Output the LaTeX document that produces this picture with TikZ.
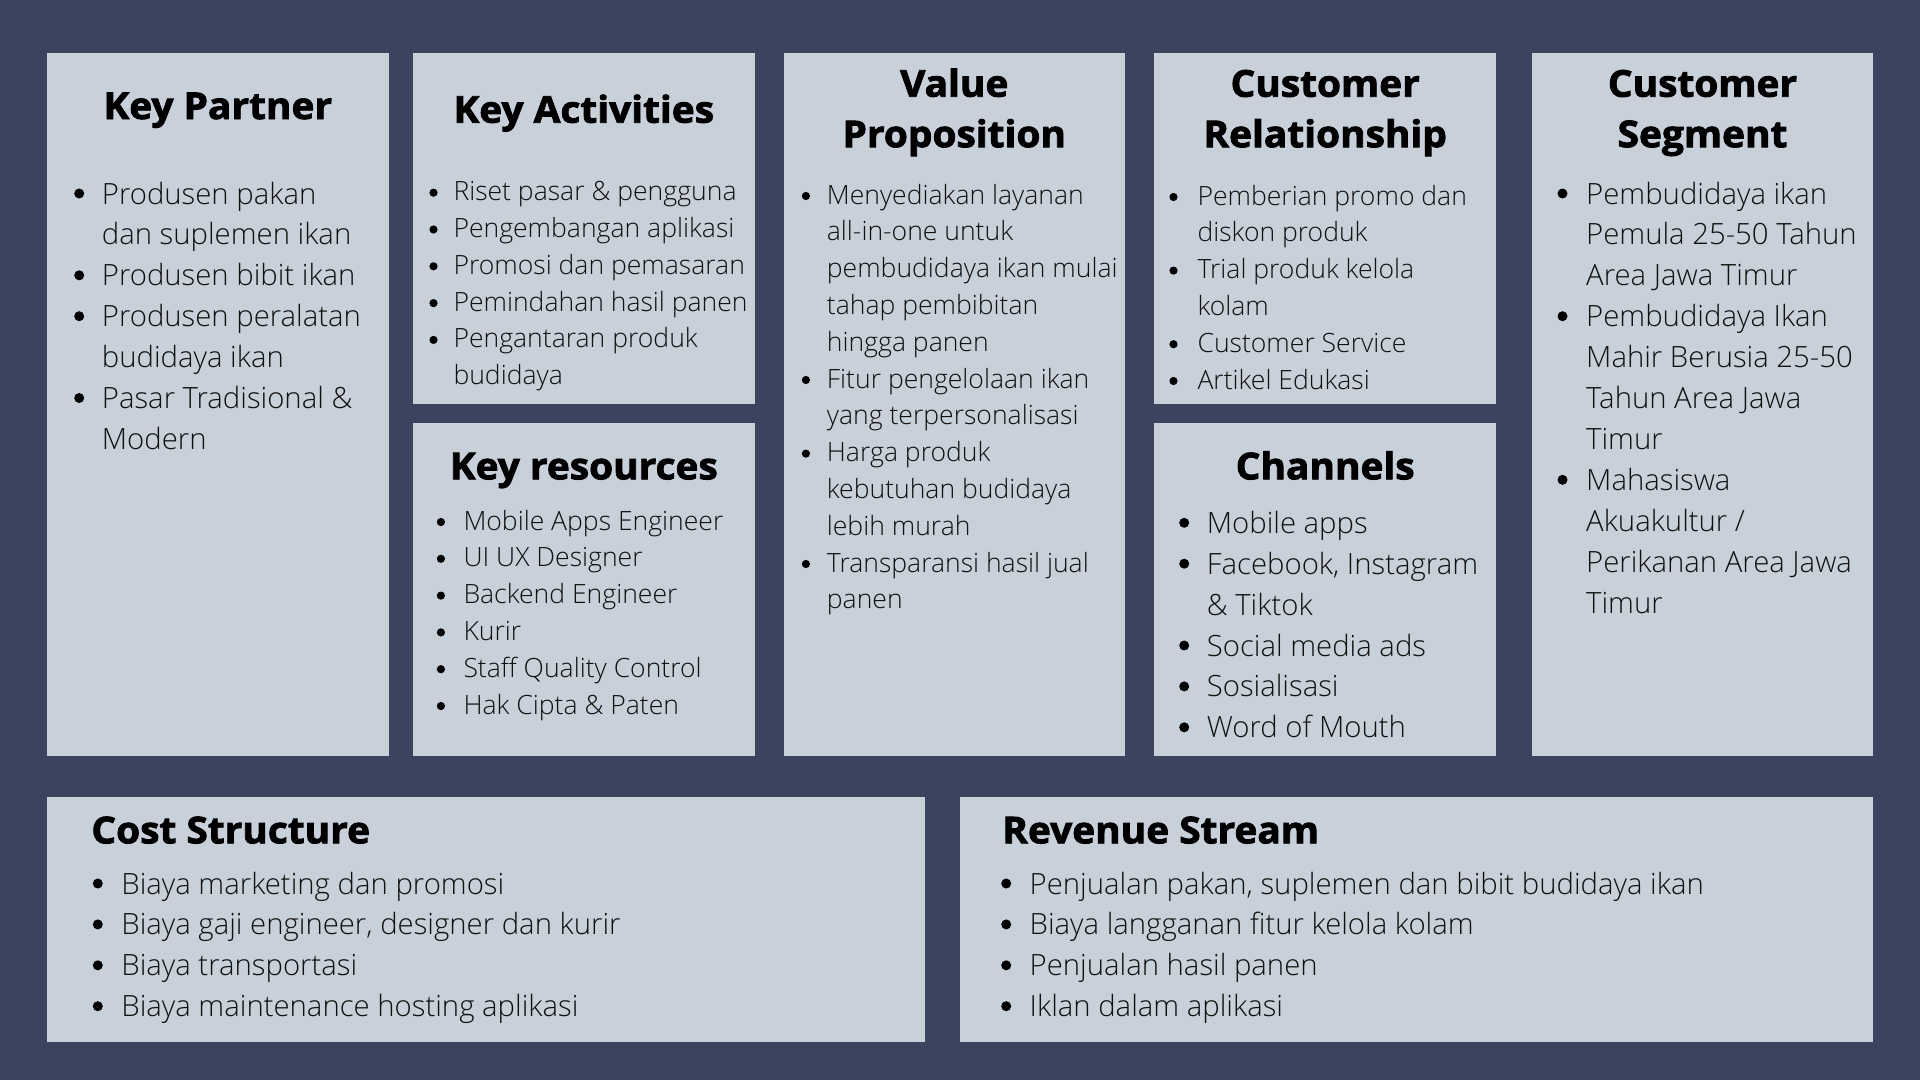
\documentclass[tikz,border=0pt]{standalone}
\usepackage{fontspec}
\setmainfont{Open Sans}
\newfontfamily\lightf{Open Sans Light}
\newfontfamily\heavyf{Open Sans}[BoldFeatures={FakeBold=2.2,FakeStretch=1.05}]
\definecolor{canvasbg}{HTML}{3C435F}
\definecolor{panel}{HTML}{C8D0DA}
\definecolor{ink}{HTML}{111111}
% round bullets: the dot sits on the middle of the x-height
\newcommand{\bigdot}{\makebox[10pt]{\raisebox{10.5pt}{\smash{\tikz[baseline=0pt]\fill[black] (0,0) circle (5pt);}}}}
\newcommand{\smalldot}{\makebox[10pt]{\raisebox{8pt}{\smash{\tikz[baseline=0pt]\fill[black] (0,0) circle (4.1pt);}}}}
\newcommand{\bigbody}{\lightf\fontsize{29.3}{40.9}\selectfont\let\itm\bigdot}
\newcommand{\smallbody}{\lightf\fontsize{26.55}{36.8}\selectfont\let\itm\smalldot}
\begin{document}
\begin{tikzpicture}[x=1pt,y=-1pt,
  panelbox/.style={fill=panel},
  heading/.style={inner sep=0pt, anchor=base, text=black,
    font=\heavyf\bfseries\fontsize{37}{50.5}\selectfont},
  lefthead/.style={heading, anchor=base west},
  items/.style={inner sep=0pt, anchor=base west, text=ink}]

\fill[canvasbg] (0,0) rectangle (1920,1080);
\useasboundingbox (0,0) rectangle (1920,1080);

% panels
\fill[panelbox] (47,52.7) rectangle (388.7,756.3);
\fill[panelbox] (413,52.7) rectangle (754.7,404.3);
\fill[panelbox] (413,422.7) rectangle (754.7,756.3);
\fill[panelbox] (783.7,52.7) rectangle (1125,756.3);
\fill[panelbox] (1154.3,52.7) rectangle (1496,404.3);
\fill[panelbox] (1154.3,422.7) rectangle (1496,756.3);
\fill[panelbox] (1531.7,52.7) rectangle (1873.3,756.3);
\fill[panelbox] (47,797) rectangle (925.4,1042.3);
\fill[panelbox] (960,797) rectangle (1873.3,1042.3);

% headings
\node[heading] (hkp) at (217.8,119) {Key Partner};
\node[heading] (hka) at (583.8,122.7) {Key Activities};
\node[heading] (hvp) at (954.3,96.7) {\begin{tabular}[t]{@{}c@{}}Value\\Proposition\end{tabular}};
\node[heading] (hcr) at (1325.2,96.7) {\begin{tabular}[t]{@{}c@{}}Customer\\Relationship\end{tabular}};
\node[heading] (hcs) at (1702.5,96.7) {\begin{tabular}[t]{@{}c@{}}Customer\\Segment\end{tabular}};
\node[heading] (hkr) at (583.8,479.3) {Key resources};
\node[heading] (hch) at (1325.2,479.3) {Channels};
\node[lefthead] (hcost) at (91.2,843.3) {Cost Structure};
\node[lefthead] (hrev) at (1002.1,843.3) {Revenue Stream};

% Key Partner
\node[items] (lkp) at (74,204) {\bigbody
  \begin{tabular}[t]{@{}c@{\hspace{17.7pt}}l@{}}
  \itm & Produsen pakan\\
       & dan suplemen ikan\\
  \itm & Produsen bibit ikan\\
  \itm & Produsen peralatan\\
       & budidaya ikan\\
  \itm & Pasar Tradisional \&\\
       & Modern
  \end{tabular}};

% Key Activities
\node[items] (lka) at (428.3,200.7) {\smallbody
  \begin{tabular}[t]{@{}c@{\hspace{15pt}}l@{}}
  \itm & Riset pasar \& pengguna\\
  \itm & Pengembangan aplikasi\\
  \itm & Promosi dan pemasaran\\
  \itm & Pemindahan hasil panen\\
  \itm & Pengantaran produk\\
       & budidaya
  \end{tabular}};

% Key resources
\node[items] (lkr) at (435.7,530) {\smallbody
  \begin{tabular}[t]{@{}c@{\hspace{17.6pt}}l@{}}
  \itm & Mobile Apps Engineer\\
  \itm & UI UX Designer\\
  \itm & Backend Engineer\\
  \itm & Kurir\\
  \itm & Staff Quality Control\\
  \itm & Hak Cipta \& Paten
  \end{tabular}};

% Value Proposition
\node[items] (lvp) at (800.7,204) {\smallbody
  \begin{tabular}[t]{@{}c@{\hspace{16pt}}l@{}}
  \itm & Menyediakan layanan\\
       & all-in-one untuk\\
       & pembudidaya ikan mulai\\
       & tahap pembibitan\\
       & hingga panen\\
  \itm & Fitur pengelolaan ikan\\
       & yang terpersonalisasi\\
  \itm & Harga produk\\
       & kebutuhan budidaya\\
       & lebih murah\\
  \itm & Transparansi hasil jual\\
       & panen
  \end{tabular}};

% Customer Relationship
\node[items] (lcr) at (1168.3,205) {\smallbody
  \begin{tabular}[t]{@{}c@{\hspace{19pt}}l@{}}
  \itm & Pemberian promo dan\\
       & diskon produk\\
  \itm & Trial produk kelola\\
       & kolam\\
  \itm & Customer Service\\
  \itm & Artikel Edukasi
  \end{tabular}};

% Channels
\node[items] (lch) at (1179,533.3) {\bigbody
  \begin{tabular}[t]{@{}c@{\hspace{17.7pt}}l@{}}
  \itm & Mobile apps\\
  \itm & Facebook, Instagram\\
       & \& Tiktok\\
  \itm & Social media ads\\
  \itm & Sosialisasi\\
  \itm & Word of Mouth
  \end{tabular}};

% Customer Segment
\node[items] (lcs) at (1557.3,204) {\bigbody
  \begin{tabular}[t]{@{}c@{\hspace{18.7pt}}l@{}}
  \itm & Pembudidaya ikan\\
       & Pemula 25-50 Tahun\\
       & Area Jawa Timur\\
  \itm & Pembudidaya Ikan\\
       & Mahir Berusia 25-50\\
       & Tahun Area Jawa\\
       & Timur\\
  \itm & Mahasiswa\\
       & Akuakultur /\\
       & Perikanan Area Jawa\\
       & Timur
  \end{tabular}};

% Cost Structure
\node[items] (lcost) at (92.6,894) {\bigbody
  \begin{tabular}[t]{@{}c@{\hspace{18.6pt}}l@{}}
  \itm & Biaya marketing dan promosi\\
  \itm & Biaya gaji engineer, designer dan kurir\\
  \itm & Biaya transportasi\\
  \itm & Biaya maintenance hosting aplikasi
  \end{tabular}};

% Revenue Stream
\node[items] (lrev) at (1001,894) {\bigbody
  \begin{tabular}[t]{@{}c@{\hspace{18.5pt}}l@{}}
  \itm & Penjualan pakan, suplemen dan bibit budidaya ikan\\
  \itm & Biaya langganan fitur kelola kolam\\
  \itm & Penjualan hasil panen\\
  \itm & Iklan dalam aplikasi
  \end{tabular}};
\end{tikzpicture}
\end{document}
